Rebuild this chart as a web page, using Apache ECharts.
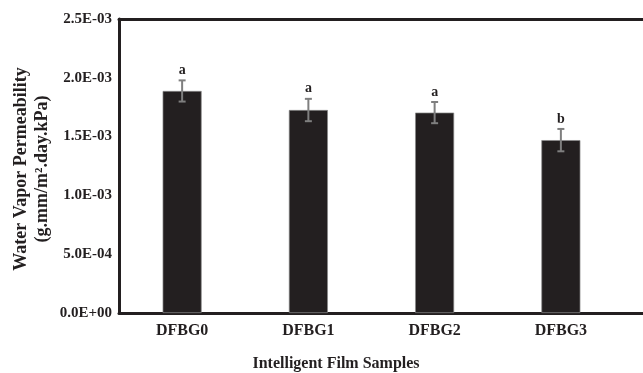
<!DOCTYPE html>
<html><head><meta charset="utf-8">
<script src="https://cdn.jsdelivr.net/npm/echarts@6/dist/echarts.min.js"></script>
<style>html,body{margin:0;padding:0;background:#fff}#c{width:643px;height:373px}</style>
</head><body><div id="c"></div>
<script>
const categories = ['DFBG0', 'DFBG1', 'DFBG2', 'DFBG3'];
const values = [1.888e-3, 1.726e-3, 1.704e-3, 1.470e-3];
const errors = [0.090e-3, 0.095e-3, 0.090e-3, 0.095e-3];
const letters = ['a', 'a', 'a', 'b'];
const yTicks = [0, 0.5e-3, 1.0e-3, 1.5e-3, 2.0e-3, 2.5e-3];

function fmt(v) {
  if (v === 0) return '0.0E+00';
  const e = Math.floor(Math.log10(v) + 1e-9);
  const m = v / Math.pow(10, e);
  const sign = e < 0 ? '-' : '+';
  const ae = Math.abs(e);
  return m.toFixed(1) + 'E' + sign + (ae < 10 ? '0' + ae : ae);
}

const FONT = '"Liberation Serif","Times New Roman",serif';
const DARK = '#231f20';
const chart = echarts.init(document.getElementById('c'));
chart.setOption({
  animation: false,
  grid: [
    { left: 119, right: 19, top: 19, bottom: 60 },
    { left: 119, right: 0, top: 19, bottom: 60 }
  ],
  xAxis: [
    { type: 'category', data: categories, gridIndex: 0,
      axisLine: { show: false }, axisTick: { show: false },
      axisLabel: { fontFamily: FONT, fontWeight: 'bold', fontSize: 16, color: DARK, margin: 10 } },
    { type: 'value', gridIndex: 1, position: 'bottom', min: 0, max: 1,
      axisLine: { show: true, onZero: false, lineStyle: { color: DARK, width: 3 } },
      axisTick: { show: false }, axisLabel: { show: false }, splitLine: { show: false } },
    { type: 'value', gridIndex: 1, position: 'top', min: 0, max: 1,
      axisLine: { show: true, onZero: false, lineStyle: { color: DARK, width: 3 } },
      axisTick: { show: false }, axisLabel: { show: false }, splitLine: { show: false } }
  ],
  yAxis: [
    { type: 'value', gridIndex: 0, min: 0, max: 2.5e-3, interval: 0.5e-3,
      axisLine: { show: true, lineStyle: { color: DARK, width: 3 } },
      axisTick: { show: false }, splitLine: { show: false },
      axisLabel: { fontFamily: FONT, fontWeight: 'bold', fontSize: 15, color: DARK, margin: 7,
        formatter: v => fmt(v) } },
    { type: 'value', gridIndex: 1, min: 0, max: 1, show: false }
  ],
  graphic: [
    { type: 'text', x: 32, y: 169, rotation: Math.PI / 2,
      style: { text: 'Water Vapor Permeability\n(g.mm/m².day.kPa)', font: 'bold 18px ' + FONT,
        fill: DARK, textAlign: 'center', textVerticalAlign: 'middle', lineHeight: 21 } },
    { type: 'text', x: 336, y: 364,
      style: { text: 'Intelligent Film Samples', font: 'bold 16px ' + FONT,
        fill: DARK, textAlign: 'center', textVerticalAlign: 'middle' } }
  ],
  series: [
    { type: 'bar', data: values, barWidth: 39, xAxisIndex: 0, yAxisIndex: 0, z: 2,
      itemStyle: { color: DARK, borderColor: '#8a8a8a', borderWidth: 0.7 } },
    { type: 'custom', xAxisIndex: 0, yAxisIndex: 0, z: 5,
      data: values.map((v, i) => [i, v, errors[i], letters[i]]),
      renderItem: function (params, api) {
        const x = api.coord([api.value(0), 0])[0];
        const v = api.value(1), e = api.value(2);
        const top = api.coord([api.value(0), v + e])[1];
        const bot = api.coord([api.value(0), v - e])[1];
        const st = { stroke: '#7f7f7f', lineWidth: 2 };
        return { type: 'group', children: [
          { type: 'line', shape: { x1: x, y1: top, x2: x, y2: bot }, style: st },
          { type: 'line', shape: { x1: x - 3.5, y1: top, x2: x + 3.5, y2: top }, style: st },
          { type: 'line', shape: { x1: x - 3.5, y1: bot, x2: x + 3.5, y2: bot }, style: st },
          { type: 'text', x: x, y: top - 3, style: { text: api.value(3), font: 'bold 14px ' + FONT,
              fill: DARK, textAlign: 'center', textVerticalAlign: 'bottom' } }
        ] };
      } }
  ]
});
</script></body></html>
